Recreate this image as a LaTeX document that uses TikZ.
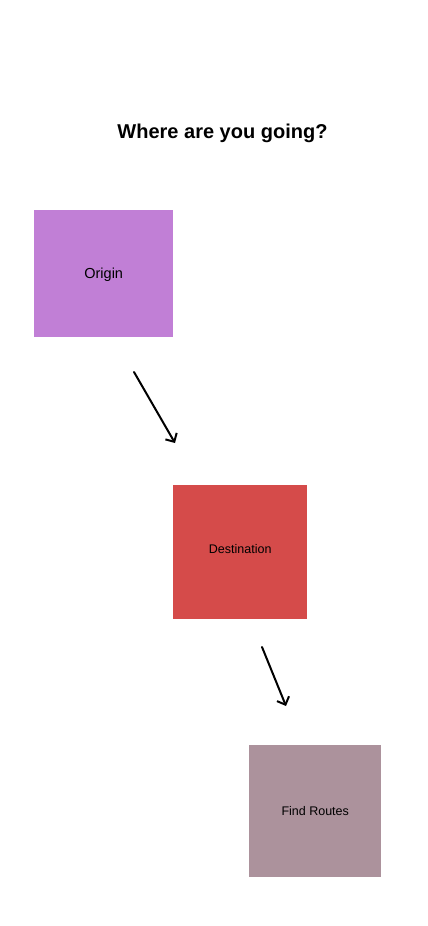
\documentclass[tikz,border=0pt]{standalone}
\usepackage{fontspec}
\setmainfont{Liberation Sans}
\usetikzlibrary{arrows.meta}
\definecolor{origincol}{HTML}{C17FD6}
\definecolor{destcol}{HTML}{D54B4A}
\definecolor{routecol}{HTML}{AC929C}
\tikzset{
  box/.style={draw=none, inner sep=0pt, anchor=north west},
  flowarrow/.style={line width=2pt, line cap=round, -{Straight Barb[length=6.5pt,width=13pt,line width=2pt]}},
}
\begin{document}
\begin{tikzpicture}[x=1pt,y=-1pt]
\useasboundingbox[fill=white] (0,0) rectangle (428,926);
\node[font=\bfseries\fontsize{20}{24}\selectfont] (title) at (222.5,133) {Where are you going?};
\node[box, fill=origincol, minimum width=139pt, minimum height=127pt] (origin) at (34,210) {};
\node[font=\fontsize{14.5}{16}\selectfont] (origintxt) at ([yshift=-1pt]origin.center) {Origin};
\node[box, fill=destcol, minimum width=134pt, minimum height=134pt] (dest) at (173,485) {};
\node[font=\fontsize{12.5}{14}\selectfont] (desttxt) at ([yshift=3pt]dest.center) {Destination};
\node[box, fill=routecol, minimum width=132pt, minimum height=132pt] (route) at (249,745) {};
\node[font=\fontsize{12.5}{14}\selectfont] (routetxt) at (route.center) {Find Routes};
\coordinate (a1s) at (134,372);
\coordinate (a1e) at (175,443);
\coordinate (a2s) at (262,647);
\coordinate (a2e) at (286,706);
\draw[flowarrow] (a1s) -- (a1e);
\draw[flowarrow] (a2s) -- (a2e);
\end{tikzpicture}
\end{document}
